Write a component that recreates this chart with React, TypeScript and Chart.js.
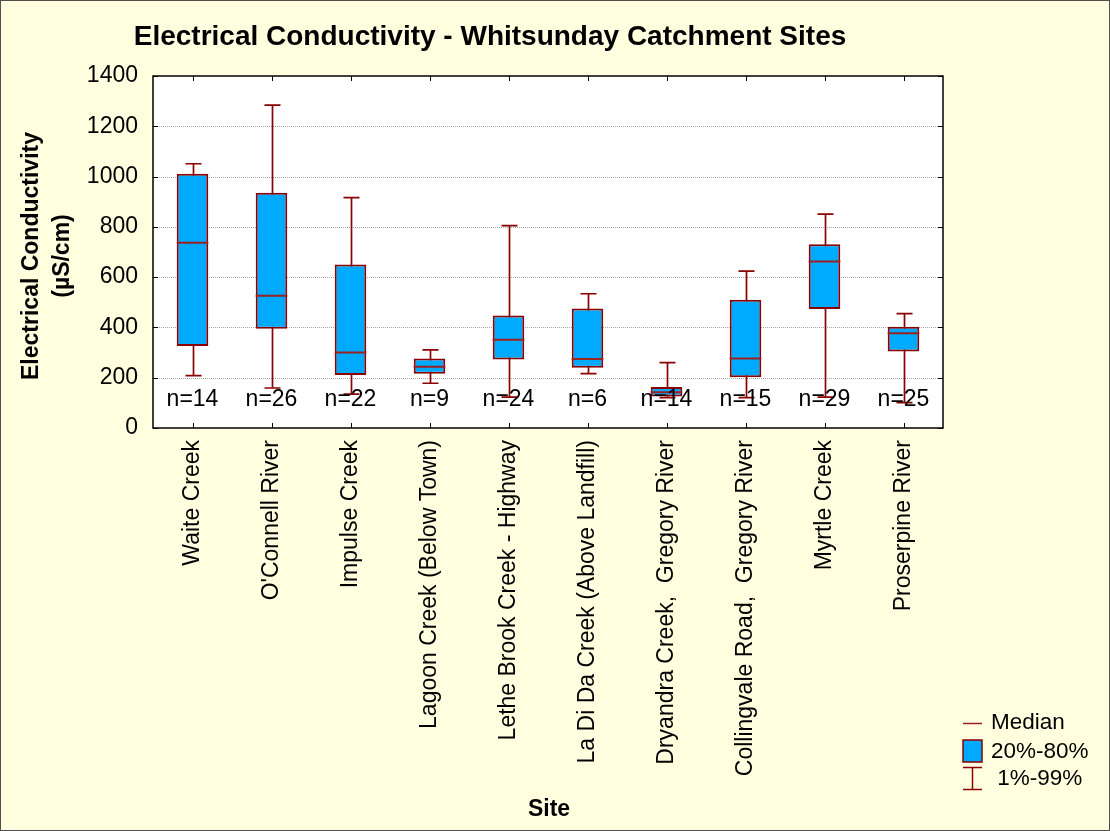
import React, { useEffect, useRef } from "react";
import { Chart, registerables } from "chart.js";

Chart.register(...registerables);

// ---- data ----
const sites = [
  "Waite Creek",
  "O'Connell River",
  "Impulse Creek",
  "Lagoon Creek (Below Town)",
  "Lethe Brook Creek - Highway",
  "La Di Da Creek (Above Landfill)",
  "Dryandra Creek,  Gregory River",
  "Collingvale Road,  Gregory River",
  "Myrtle Creek",
  "Proserpine River",
];
const p01 = [208, 159, 135, 178, 123, 216, 121, 121, 123, 101];
const q20 = [326, 395, 211, 216, 272, 240, 125, 202, 473, 304];
const medians = [737, 526, 300, 244, 351, 274, 142, 276, 662, 377];
const q80 = [1011, 936, 650, 276, 447, 475, 163, 510, 731, 403];
const p99 = [1051, 1284, 916, 311, 805, 534, 260, 624, 851, 455];
const counts = [14, 26, 22, 9, 24, 6, 14, 15, 29, 25];

const yMin = 0;
const yMax = 1400;
const yStep = 200;

const titleText = "Electrical Conductivity - Whitsunday Catchment Sites";
const yTitleLines = ["Electrical Conductivity", "(\u00b5S/cm)"];
const xTitleText = "Site";
const legendLabels = ["Median", "20%-80%", " 1%-99%"];

// ---- style ----
const FONT = "'Liberation Sans', Arial, Helvetica, sans-serif";
const BG = "#FFFFE0";
const BOX = "#00AAFF";
const EDGE = "#8B0000";
const MED = "#9B2020";
const N_LABEL_VALUE = 112;

const boxPlugin = {
  id: "boxExtras",
  beforeDraw(chart: any) {
    const { ctx, width, height, chartArea: ca } = chart;
    ctx.save();
    ctx.fillStyle = BG;
    ctx.fillRect(0, 0, width, height);
    ctx.fillStyle = "#FFFFFF";
    ctx.fillRect(ca.left, ca.top, ca.right - ca.left, ca.bottom - ca.top);
    ctx.strokeStyle = "#505050";
    ctx.lineWidth = 1;
    ctx.strokeRect(0.5, 0.5, width - 1, height - 1);
    ctx.restore();
  },
  beforeDatasetsDraw(chart: any) {
    const { ctx, chartArea: ca } = chart;
    const x = chart.scales.x;
    const y = chart.scales.y;
    ctx.save();
    // dotted grid
    ctx.strokeStyle = "#A8A8A8";
    ctx.lineWidth = 1;
    ctx.setLineDash([1, 1]);
    y.ticks.forEach((t: any) => {
      if (t.value <= yMin || t.value >= yMax) return;
      const py = Math.round(y.getPixelForValue(t.value)) + 0.5;
      ctx.beginPath();
      ctx.moveTo(ca.left, py);
      ctx.lineTo(ca.right, py);
      ctx.stroke();
    });
    ctx.setLineDash([]);
    // whiskers
    ctx.strokeStyle = EDGE;
    ctx.lineWidth = 1.7;
    sites.forEach((_, i) => {
      const px = Math.round(x.getPixelForValue(i)) + 0.5;
      const top = y.getPixelForValue(p99[i]);
      const bot = y.getPixelForValue(p01[i]);
      ctx.beginPath();
      ctx.moveTo(px, top);
      ctx.lineTo(px, bot);
      ctx.moveTo(px - 8, top);
      ctx.lineTo(px + 8, top);
      ctx.moveTo(px - 8, bot);
      ctx.lineTo(px + 8, bot);
      ctx.stroke();
    });
    ctx.restore();
  },
  afterDatasetsDraw(chart: any) {
    const { ctx, chartArea: ca } = chart;
    const x = chart.scales.x;
    const y = chart.scales.y;
    ctx.save();
    // medians
    const meta = chart.getDatasetMeta(0);
    ctx.strokeStyle = MED;
    ctx.lineWidth = 2;
    meta.data.forEach((bar: any, i: number) => {
      const { x: bx, width: bw } = bar.getProps(["x", "width"], true);
      const py = y.getPixelForValue(medians[i]);
      ctx.beginPath();
      ctx.moveTo(bx - bw / 2, py);
      ctx.lineTo(bx + bw / 2, py);
      ctx.stroke();
    });
    // n labels
    ctx.fillStyle = "#000";
    ctx.font = `23px ${FONT}`;
    ctx.textAlign = "center";
    ctx.textBaseline = "middle";
    counts.forEach((n, i) => {
      ctx.fillText(`n=${n}`, x.getPixelForValue(i), y.getPixelForValue(N_LABEL_VALUE));
    });
    // frame
    ctx.strokeStyle = "#000";
    ctx.lineWidth = 1.5;
    ctx.strokeRect(ca.left, ca.top, ca.right - ca.left, ca.bottom - ca.top);
    // inside ticks
    ctx.lineWidth = 1;
    ctx.beginPath();
    y.ticks.forEach((t: any) => {
      const py = Math.round(y.getPixelForValue(t.value)) + 0.5;
      ctx.moveTo(ca.left, py);
      ctx.lineTo(ca.left + 5, py);
      ctx.moveTo(ca.right, py);
      ctx.lineTo(ca.right - 5, py);
    });
    sites.forEach((_, i) => {
      const px = Math.round(x.getPixelForValue(i)) + 0.5;
      ctx.moveTo(px, ca.top);
      ctx.lineTo(px, ca.top + 5);
      ctx.moveTo(px, ca.bottom);
      ctx.lineTo(px, ca.bottom - 5);
    });
    ctx.stroke();

    // title
    ctx.fillStyle = "#000";
    ctx.font = `bold 28px ${FONT}`;
    ctx.textAlign = "center";
    ctx.textBaseline = "middle";
    ctx.fillText(titleText, 490, 37);

    // y axis title
    ctx.font = `bold 23px ${FONT}`;
    const midY = (ca.top + ca.bottom) / 2 + 4;
    ctx.save();
    ctx.translate(32, midY);
    ctx.rotate(-Math.PI / 2);
    ctx.fillText(yTitleLines[0], 0, 0);
    ctx.restore();
    ctx.save();
    ctx.translate(63, midY);
    ctx.rotate(-Math.PI / 2);
    ctx.fillText(yTitleLines[1], 0, 0);
    ctx.restore();

    // x axis title
    ctx.font = `bold 23px ${FONT}`;
    ctx.fillText(xTitleText, 549, 810);

    // legend
    ctx.textAlign = "left";
    ctx.font = `22.5px ${FONT}`;
    ctx.strokeStyle = MED;
    ctx.lineWidth = 1.5;
    ctx.beginPath();
    ctx.moveTo(963, 723.5);
    ctx.lineTo(982, 723.5);
    ctx.stroke();
    ctx.fillText(legendLabels[0], 991, 723);

    ctx.fillStyle = BOX;
    ctx.fillRect(963, 740, 19, 22);
    ctx.strokeStyle = EDGE;
    ctx.lineWidth = 1.5;
    ctx.strokeRect(963, 740, 19, 22);
    ctx.fillStyle = "#000";
    ctx.fillText(legendLabels[1], 991, 752);

    ctx.beginPath();
    ctx.moveTo(963, 767.5);
    ctx.lineTo(982, 767.5);
    ctx.moveTo(972.5, 767.5);
    ctx.lineTo(972.5, 789.5);
    ctx.moveTo(963, 789.5);
    ctx.lineTo(982, 789.5);
    ctx.stroke();
    ctx.fillText(legendLabels[2], 991, 779);

    ctx.restore();
  },
};

export default function App() {
  const ref = useRef<HTMLCanvasElement | null>(null);

  useEffect(() => {
    if (!ref.current) return;
    const chart = new Chart(ref.current, {
      type: "bar",
      data: {
        labels: sites,
        datasets: [
          {
            label: "20%-80%",
            data: sites.map((_, i) => [q20[i], q80[i]]) as any,
            backgroundColor: BOX,
            borderColor: EDGE,
            borderWidth: 2,
            borderSkipped: false,
            barPercentage: 0.4,
            categoryPercentage: 1,
          },
        ],
      },
      options: {
        responsive: false,
        animation: false,
        events: [],
        layout: { padding: { top: 76, right: 167, left: 0, bottom: 0 } },
        plugins: {
          legend: { display: false },
          title: { display: false },
          tooltip: { enabled: false },
        },
        scales: {
          x: {
            type: "category",
            offset: true,
            grid: { display: false, drawTicks: false },
            border: { display: false },
            ticks: {
              autoSkip: false,
              minRotation: 90,
              maxRotation: 90,
              padding: 12,
              color: "#000",
              font: { family: FONT, size: 23 },
            },
            afterFit: (s: any) => {
              s.height = 831 - 428;
            },
          },
          y: {
            min: yMin,
            max: yMax,
            grid: { display: false, drawTicks: false },
            border: { display: false },
            ticks: {
              stepSize: yStep,
              padding: 15,
              color: "#000",
              font: { family: FONT, size: 23 },
              callback: (v: any) => String(v),
            },
            afterFit: (s: any) => {
              s.width = 153;
            },
          },
        },
      },
      plugins: [boxPlugin],
    });
    return () => chart.destroy();
  }, []);

  return (
    <div style={{ position: "absolute", left: 0, top: 0, width: 1110, height: 831 }}>
      <canvas ref={ref} width={1110} height={831} />
    </div>
  );
}
